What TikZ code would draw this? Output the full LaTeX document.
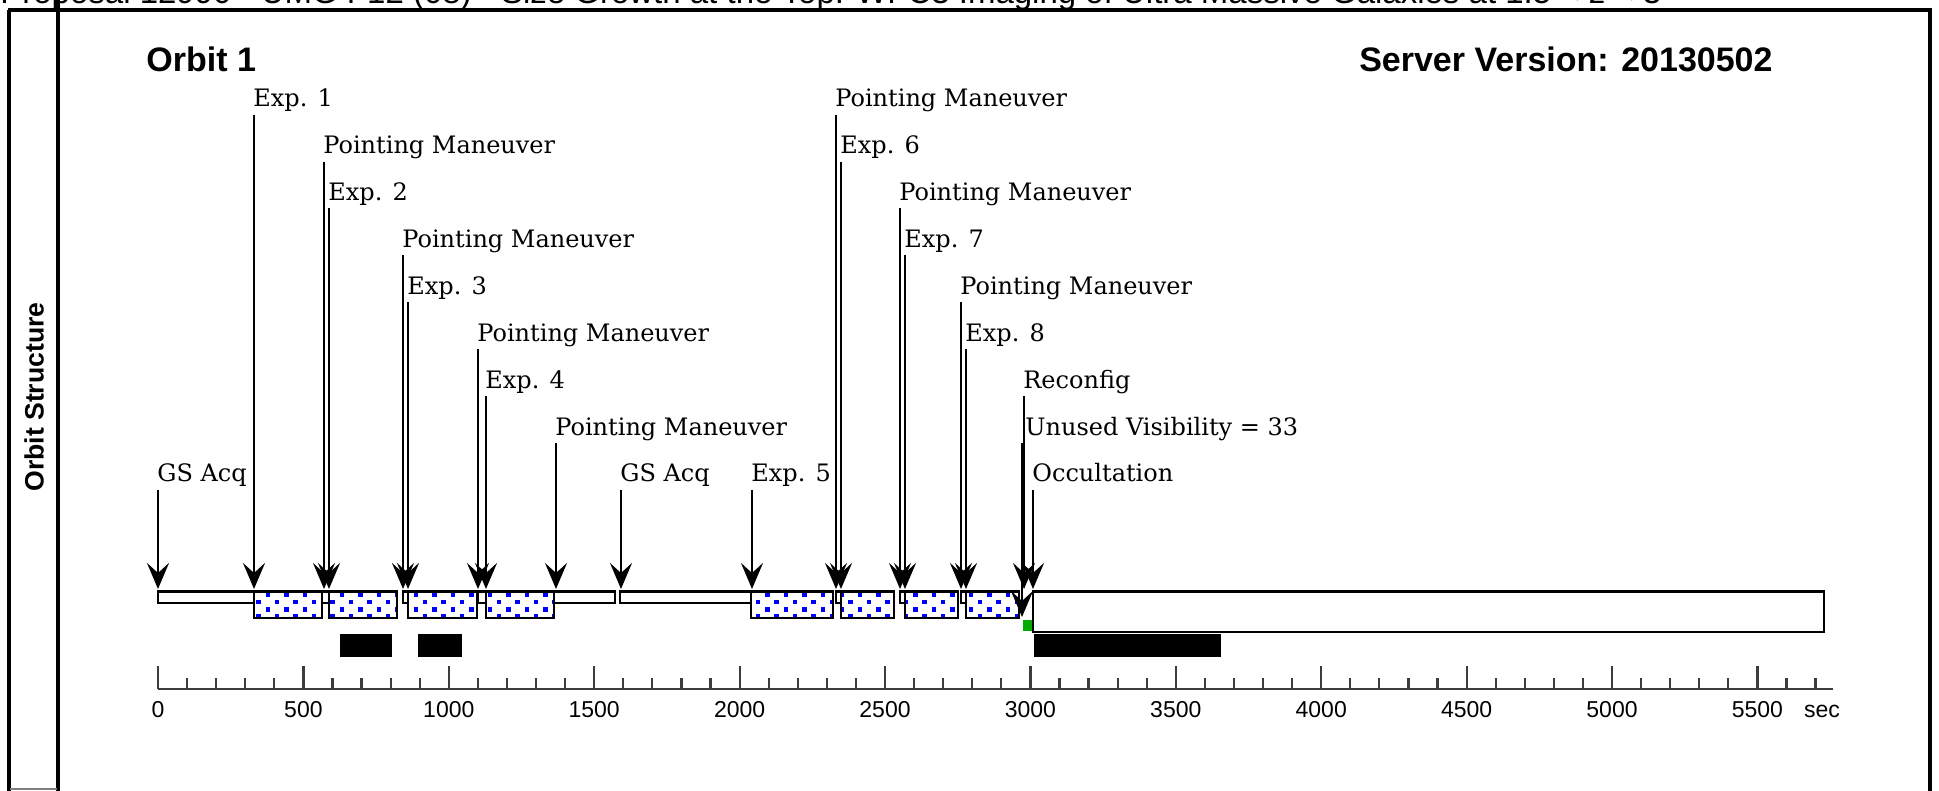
\documentclass[tikz,border=0pt]{standalone}
\usepackage{fontspec}
\setmainfont{DejaVu Serif}
\newfontfamily\hsans{Liberation Sans}
\usetikzlibrary{arrows.meta,calc}
\definecolor{axisgray}{RGB}{60,60,60}
\definecolor{dotblue}{RGB}{0,0,255}
\definecolor{visgreen}{RGB}{0,170,0}
\begin{document}
\begin{tikzpicture}[x=0.5pt,y=-0.5pt,
  evlbl/.style={anchor=base west,inner sep=0pt,font=\fontsize{12}{14}\selectfont},
  evline/.style={line width=1.1pt,-{Stealth[length=13pt,width=11pt,inset=5pt]}},
  thinbox/.style={draw,line width=1.4pt,fill=white},
  expbox/.style={draw,line width=1.4pt},
  frameline/.style={line width=1.6pt},
  axisline/.style={draw=axisgray,line width=1.3pt},
  ticklbl/.style={anchor=base,inner sep=0pt,font=\hsans\fontsize{11.5}{13}\selectfont},
  titletxt/.style={inner sep=0pt,font=\hsans\bfseries\fontsize{17}{20}\selectfont},
]
\useasboundingbox (0,0) rectangle (1939,791);

% cut-off heading and frame
\node[anchor=base west,inner sep=0pt,font=\hsans\fontsize{16.5}{18}\selectfont] (ptitle) at (0,3.5)
  {Proposal 12990 - UMG F12 (08) - Size Growth at the Top: WFC3 Imaging of Ultra Massive Galaxies at 1.5 < z < 3};
\draw[frameline] (8,10) -- (1932,10);
\draw[frameline] (9,10) -- (9,791);
\draw[frameline] (58,0) -- (58,791);
\draw[line width=2pt] (1930,10) -- (1930,791);
\draw[gray,line width=0.8pt] (10,789) -- (57,789);

\node[rotate=90,inner sep=0pt,font=\hsans\bfseries\fontsize{13.3}{16}\selectfont] (ostruct) at (34,397) {Orbit Structure};
\node[titletxt,anchor=base west] (orbit) at (146,72) {Orbit 1};
\node[titletxt,anchor=base east] (server) at (1773,72) {Server Version: 20130502};

% bar: thin boxes
\draw[thinbox] (158,591.5) rectangle (254,603);
\draw[thinbox] (554,591.5) rectangle (615,603);
\draw[thinbox] (620,591.5) rectangle (751,603);
% pointing maneuver slots
\foreach \a/\b in {322/329,403/408,478/486,836/841,900/905,961/966}
  \draw[thinbox] (\a,591.5) rectangle (\b,603);
% exposure boxes
\fill[white] (254,591.5) rectangle (322,618) (329,591.5) rectangle (397,618)
  (408,591.5) rectangle (477,618) (486,591.5) rectangle (554,618)
  (751,591.5) rectangle (833,618) (841,591.5) rectangle (894,618)
  (905,591.5) rectangle (958,618) (966,591.5) rectangle (1019,618);
\begin{scope}
\clip (254,591.5) rectangle (322,618) (329,591.5) rectangle (397,618)
  (408,591.5) rectangle (477,618) (486,591.5) rectangle (554,618)
  (751,591.5) rectangle (833,618) (841,591.5) rectangle (894,618)
  (905,591.5) rectangle (958,618) (966,591.5) rectangle (1019,618);
\foreach \j in {0,1,2,3}
  \foreach \i in {0,...,44}
    \fill[dotblue] ({247+9.25*mod(\j,2)+18.5*\i},{592.5+7.33*\j}) rectangle ++(4.6,4.6);
\end{scope}
\foreach \a/\b in {254/322,329/397,408/477,486/554,751/833,841/894,905/958,966/1019}
  \draw[expbox] (\a,591.5) rectangle (\b,618);
% occultation box
\draw[thinbox] (1033,591.5) rectangle (1824,632);
% black bars and green mark
\fill (340,634) rectangle (392,657);
\fill (418,634) rectangle (462,657);
\fill (1034,634) rectangle (1221,657);
\fill[visgreen] (1023,620) rectangle (1032,631);

% axis
\draw[axisline] (158,689) -- (1833,689);
\foreach \t in {0,100,...,5700}
  \draw[axisgray,line width=1.1pt] ({158+0.2908*\t},689) -- ({158+0.2908*\t},678);
\foreach \t in {0,500,...,5500}{
  \draw[axisgray,line width=1.1pt] ({158+0.2908*\t},689) -- ({158+0.2908*\t},666);
  \node[ticklbl] (ax\t) at ({158+0.2908*\t},717) {\t};
}
\node[ticklbl] (secl) at (1822,717) {sec};

% events
\foreach \n/\x/\r/\txt in {
  1/158/8/GS Acq, 2/254/0/Exp. 1, 3/324/1/Pointing Maneuver, 4/329/2/Exp. 2,
  5/403/3/Pointing Maneuver, 6/408/4/Exp. 3, 7/478/5/Pointing Maneuver,
  8/486/6/Exp. 4, 9/556/7/Pointing Maneuver, 10/621/8/GS Acq, 11/752/8/Exp. 5,
  12/836/0/Pointing Maneuver, 13/841/1/Exp. 6, 14/900/2/Pointing Maneuver,
  15/905/3/Exp. 7, 16/961/4/Pointing Maneuver, 17/966/5/Exp. 8,
  18/1024/6/Reconfig, 20/1033/8/Occultation}{
  \node[evlbl] (l\n) at ({\x-1},{106.7+46.9*\r}) {\txt};
  \coordinate (t\n) at (\x,589);
  \draw[evline] ($(l\n.base west)+(1,8)$) -- (t\n);
}
\node[evlbl] (l19) at (1025,{106.7+46.9*7}) {Unused Visibility = 33};
\coordinate (t19) at (1022,617);
\draw[evline] ($(l19.base west)+(-3,8)$) -- (t19);
\end{tikzpicture}
\end{document}
